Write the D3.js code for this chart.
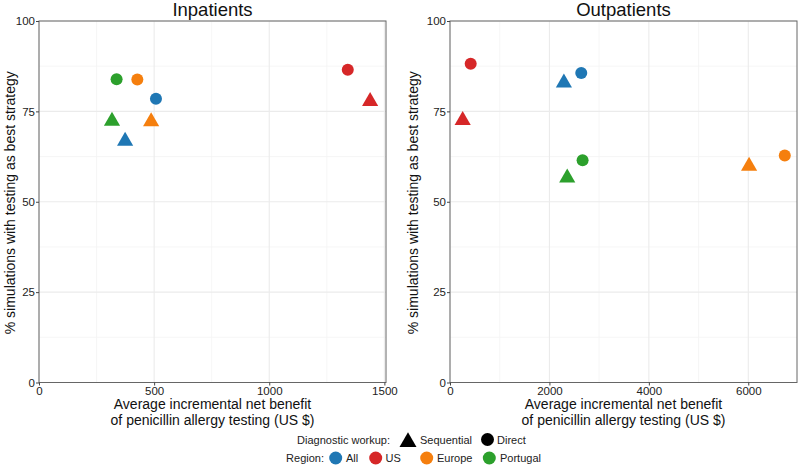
<!DOCTYPE html>
<html><head><meta charset="utf-8">
<script src="https://cdn.jsdelivr.net/npm/d3@7"></script>
<style>body{margin:0;background:#fff}svg{display:block}text{font-family:"Liberation Sans",Arial,sans-serif}</style>
</head><body><svg id="c" width="799" height="466"></svg>
<script>
const regions = ["All", "US", "Europe", "Portugal"];
const regionColors = ["#1f77b4", "#d62728", "#f57f0e", "#2ca02c"];
const workups = ["Sequential", "Direct"];
const yTicks = [0, 25, 50, 75, 100];
const inTicks = [0, 500, 1000, 1500];
const outTicks = [0, 2000, 4000, 6000];
// Inpatients
const inSeqX = [374, 1438, 487, 317];
const inSeqY = [66.8, 77.8, 72.2, 72.3];
const inDirX = [508, 1341, 427, 337];
const inDirY = [78.5, 86.5, 83.8, 83.9];
// Outpatients
const outSeqX = [2291, 255, 6016, 2358];
const outSeqY = [82.9, 72.5, 59.9, 56.6];
const outDirX = [2640, 416, 6734, 2667];
const outDirY = [85.6, 88.2, 62.8, 61.5];

const svg = d3.select("#c");
const R = 6;
function triPath(s){ // R pch 17 geometry, centred at circumcentre
  const r = 1.5551*s, xc = 1.3468*s, yc = 0.7776*s;
  return `M0,${-r}L${xc},${yc}L${-xc},${yc}Z`;
}
const color = d3.scaleOrdinal().domain(regions).range(regionColors);

function panel(opt){
  const x = d3.scaleLinear().domain([0, opt.xmax]).range([opt.x0, opt.x1]);
  const y = d3.scaleLinear().domain([0, 100]).range([382.5, 21]);
  const g = svg.append("g");
  const step = opt.ticks[1] - opt.ticks[0];
  const xMinor = opt.ticks.map(t => t + step / 2).filter(t => t < opt.xmax);
  const yMinor = [12.5, 37.5, 62.5, 87.5];
  g.selectAll(".xm").data(xMinor).join("line").attr("x1", d => x(d)).attr("x2", d => x(d))
    .attr("y1", y(0)).attr("y2", y(100)).attr("stroke", "#f4f4f4").attr("stroke-width", 0.8);
  g.selectAll(".ym").data(yMinor).join("line").attr("y1", d => y(d)).attr("y2", d => y(d))
    .attr("x1", opt.x0).attr("x2", opt.x1).attr("stroke", "#f4f4f4").attr("stroke-width", 0.8);
  g.selectAll(".xg").data(opt.ticks).join("line").attr("x1", d => x(d)).attr("x2", d => x(d))
    .attr("y1", y(0)).attr("y2", y(100)).attr("stroke", "#ebebeb").attr("stroke-width", 1.1);
  g.selectAll(".yg").data(yTicks).join("line").attr("y1", d => y(d)).attr("y2", d => y(d))
    .attr("x1", opt.x0).attr("x2", opt.x1).attr("stroke", "#ebebeb").attr("stroke-width", 1.1);
  g.append("rect").attr("x", opt.x0).attr("y", y(100)).attr("width", opt.x1 - opt.x0)
    .attr("height", y(0) - y(100)).attr("fill", "none").attr("stroke", "#666").attr("stroke-width", 1);
  const ax = g.append("g").attr("transform", `translate(0,${y(0)})`)
    .call(d3.axisBottom(x).tickValues(opt.ticks).tickSize(3).tickPadding(1).tickFormat(d3.format("d")));
  const ay = g.append("g").attr("transform", `translate(${opt.x0},0)`)
    .call(d3.axisLeft(y).tickValues(yTicks).tickSize(3).tickPadding(1));
  [ax, ay].forEach(a => {
    a.select(".domain").remove();
    a.selectAll("line").attr("stroke", "#444");
    a.selectAll("text").attr("fill", "#222").style("font-size", "11.5px").style("font-family", "Liberation Sans, Arial, sans-serif");
  });
  const cx = (opt.x0 + opt.x1) / 2;
  g.append("text").attr("x", cx).attr("y", 16).attr("text-anchor", "middle")
    .style("font-size", "18.5px").attr("fill", "#111").text(opt.title);
  g.append("text").attr("transform", `translate(${opt.yTitleX},${(y(0)+y(100))/2 + 1}) rotate(-90)`)
    .attr("text-anchor", "middle").attr("dominant-baseline", "central").style("font-size", "14px").attr("fill", "#111")
    .text("% simulations with testing as best strategy");
  g.append("text").attr("x", cx).attr("y", 409).attr("text-anchor", "middle")
    .style("font-size", "14px").attr("fill", "#111").text("Average incremental net benefit");
  g.append("text").attr("x", cx).attr("y", 425).attr("text-anchor", "middle")
    .style("font-size", "14px").attr("fill", "#111").text("of penicillin allergy testing (US $)");
  const dir = regions.map((r, i) => ({r, x: opt.dirX[i], y: opt.dirY[i]}));
  const seq = regions.map((r, i) => ({r, x: opt.seqX[i], y: opt.seqY[i]}));
  g.selectAll(".dir").data(dir).join("circle").attr("cx", d => x(d.x)).attr("cy", d => y(d.y))
    .attr("r", R).attr("fill", d => color(d.r));
  g.selectAll(".seq").data(seq).join("path").attr("d", triPath(R))
    .attr("transform", d => `translate(${x(d.x)},${y(d.y)})`).attr("fill", d => color(d.r));
}

panel({x0: 39, x1: 386, xmax: 1507, ticks: inTicks, title: "Inpatients", yTitleX: 10,
  seqX: inSeqX, seqY: inSeqY, dirX: inDirX, dirY: inDirY});
panel({x0: 450, x1: 797, xmax: 6980, ticks: outTicks, title: "Outpatients", yTitleX: 413,
  seqX: outSeqX, seqY: outSeqY, dirX: outDirX, dirY: outDirY});

const lg = svg.append("g").style("font-size", "11px");
lg.append("text").attr("x", 390).attr("y", 444).attr("text-anchor", "end").attr("fill", "#222").text("Diagnostic workup:");
lg.append("path").attr("d", triPath(6.3)).attr("transform", "translate(408,442)").attr("fill", "#000");
lg.append("text").attr("x", 420).attr("y", 444).attr("fill", "#222").text(workups[0]);
lg.append("circle").attr("cx", 487.5).attr("cy", 439.5).attr("r", 6.5).attr("fill", "#000");
lg.append("text").attr("x", 497).attr("y", 444).attr("fill", "#222").text(workups[1]);

lg.append("text").attr("x", 324).attr("y", 462).attr("text-anchor", "end").attr("fill", "#222").text("Region:");
const regPos = [[335.7, 346], [375.7, 385.5], [426.7, 437], [489.3, 500]];
regions.forEach((r, i) => {
  lg.append("circle").attr("cx", regPos[i][0]).attr("cy", 458).attr("r", 6.5).attr("fill", color(r));
  lg.append("text").attr("x", regPos[i][1]).attr("y", 462).attr("fill", "#222").text(r);
});
</script></body></html>
